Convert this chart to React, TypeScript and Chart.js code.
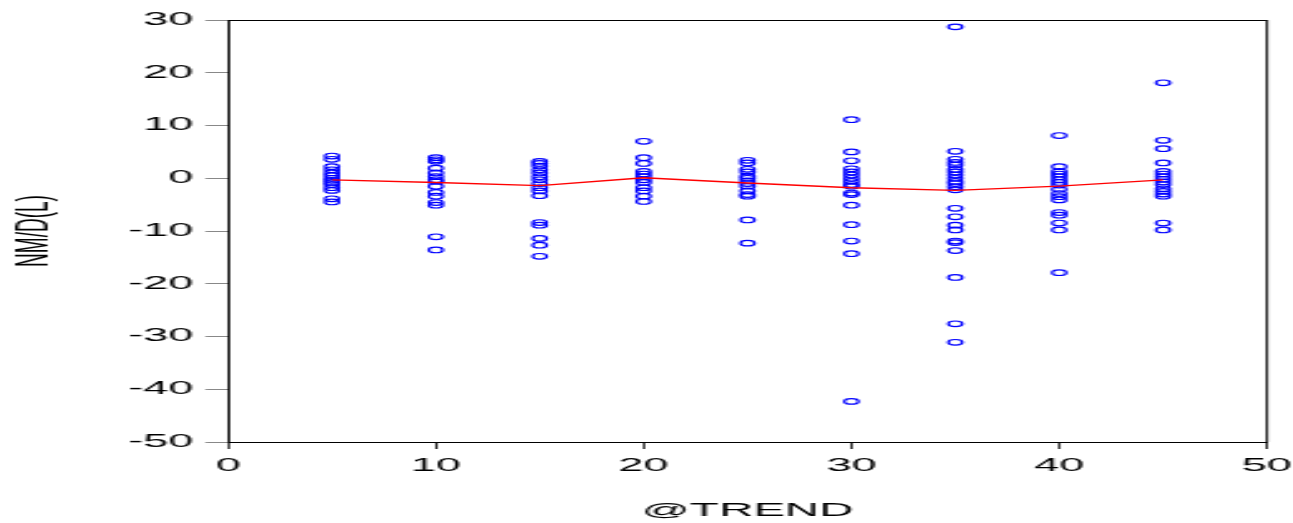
import React, { useEffect, useRef } from "react";
import { Chart, registerables } from "chart.js";

Chart.register(...registerables);

// ---- data ----
const groupX = [5, 10, 15, 20, 25, 30, 35, 40, 45];

const y5 = [4.2, 3.6, 2.2, 1.6, 1.0, 0.5, 0.0, -0.4, -0.8, -1.2, -1.8, -2.3, -3.9, -4.5];
const y10 = [3.9, 3.5, 3.2, 1.9, 1.0, 0.3, -0.3, -0.6, -1.5, -2.7, -3.4, -4.6, -5.1, -11.1, -13.6];
const y15 = [3.2, 2.8, 2.3, 1.6, 1.0, 0.3, -0.3, -1.0, -1.8, -2.4, -3.3, -8.4, -8.9, -11.4, -12.7, -14.8];
const y20 = [7.0, 3.9, 2.8, 1.3, 0.8, 0.3, -0.3, -0.8, -1.8, -2.4, -3.4, -4.4];
const y25 = [3.4, 2.9, 1.7, 1.2, 0.4, 0.0, -0.5, -1.0, -1.5, -2.4, -3.1, -3.4, -7.9, -12.3];
const y30 = [11.1, 5.0, 3.3, 1.8, 1.2, 0.6, 0.0, -0.6, -1.2, -1.5, -2.8, -3.1, -5.1, -8.8, -11.9, -14.3, -42.3];
const y35 = [28.7, 5.1, 3.6, 3.0, 2.5, 1.7, 1.2, 0.6, 0.0, -0.6, -1.0, -1.6, -2.2, -5.7, -7.3, -8.9, -9.8, -11.9, -12.2, -13.7, -18.8, -27.6, -31.1];
const y40 = [8.1, 2.2, 1.3, 0.8, 0.3, -0.3, -0.8, -1.3, -2.1, -2.9, -3.5, -4.1, -6.5, -7.0, -8.5, -9.8, -17.9];
const y45 = [18.1, 7.2, 5.6, 2.9, 1.3, 0.8, 0.3, -0.2, -0.7, -1.2, -2.0, -2.5, -3.0, -3.4, -8.5, -9.8];

const meanY = [-0.3, -0.8, -1.4, 0.1, -0.9, -1.8, -2.3, -1.5, -0.3];

const xAxisTitle = "@TREND";
const yAxisTitle = "NM/D(L)";

// ---- layout (reference image is horizontally stretched) ----
const OUT_W = 1293;
const OUT_H = 523;
const STRETCH = 2.5;
const CANVAS_W = Math.round(OUT_W / STRETCH);
const SX = OUT_W / CANVAS_W;
const FONT = "'Liberation Sans', Arial, sans-serif";

const boxPlugin = {
  id: "boxPlugin",
  afterDraw(chart: any) {
    const { ctx, chartArea } = chart;
    ctx.save();
    ctx.strokeStyle = "#000";
    ctx.lineWidth = 1;
    ctx.beginPath();
    ctx.moveTo(chartArea.left, chartArea.top + 0.5);
    ctx.lineTo(chartArea.right, chartArea.top + 0.5);
    ctx.stroke();
    ctx.lineWidth = 0.9;
    ctx.beginPath();
    ctx.moveTo(chartArea.right, chartArea.top);
    ctx.lineTo(chartArea.right, chartArea.bottom);
    ctx.stroke();
    ctx.restore();
  },
};

export default function App() {
  const ref = useRef<HTMLCanvasElement>(null);

  useEffect(() => {
    if (!ref.current) return;
    const groups = [y5, y10, y15, y20, y25, y30, y35, y40, y45];
    const scatterPts: { x: number; y: number }[] = [];
    groups.forEach((arr, i) => arr.forEach((v) => scatterPts.push({ x: groupX[i], y: v })));
    const meanPts = groupX.map((x, i) => ({ x, y: meanY[i] }));

    const chart = new Chart(ref.current, {
      type: "scatter",
      data: {
        datasets: [
          {
            type: "line",
            data: meanPts,
            borderColor: "#ff0000",
            borderWidth: 1.4,
            pointRadius: 0,
            fill: false,
            tension: 0,
          } as any,
          {
            data: scatterPts,
            pointStyle: "circle",
            pointRadius: 2.8,
            pointBorderWidth: 1.15,
            borderColor: "#0000ff",
            backgroundColor: "rgba(0,0,0,0)",
            pointBackgroundColor: "rgba(0,0,0,0)",
            pointBorderColor: "#0000ff",
          } as any,
        ],
      },
      options: {
        responsive: false,
        animation: false,
        devicePixelRatio: 1,
        layout: { padding: { left: 0, right: CANVAS_W - 1267 / SX, top: 20, bottom: 0 } },
        plugins: { legend: { display: false }, tooltip: { enabled: false } },
        scales: {
          x: {
            type: "linear",
            min: 0,
            max: 50,
            ticks: { stepSize: 10, color: "#000", padding: 6, font: { family: FONT, size: 18 }, maxRotation: 0 },
            grid: { drawOnChartArea: false, drawTicks: true, tickLength: 7, tickColor: "#333" },
            border: { display: true, color: "#000", width: 1 },
            title: { display: true, text: xAxisTitle, color: "#000", font: { family: FONT, size: 19, lineHeight: 1.0 }, padding: { top: 0, bottom: 3 } },
            afterFit: (s: any) => {
              s.height = OUT_H - 442;
              s.paddingLeft = 0;
              s.paddingRight = 0;
            },
          },
          y: {
            type: "linear",
            min: -50,
            max: 30,
            ticks: { stepSize: 10, color: "#000", padding: 5, font: { family: FONT, size: 18 } },
            grid: { drawOnChartArea: false, drawTicks: true, tickLength: 9, tickColor: "#888" },
            border: { display: true, color: "#000", width: 1 },
            title: { display: true, text: yAxisTitle, color: "#000", font: { family: FONT, size: 19 }, padding: { top: 2, bottom: 0 } },
            afterFit: (s: any) => {
              s.width = 228 / SX;
              s.paddingTop = 0;
              s.paddingBottom = 0;
            },
          },
        },
      } as any,
      plugins: [boxPlugin],
    });
    return () => chart.destroy();
  }, []);

  return (
    <div style={{ position: "fixed", left: 0, top: 0, width: OUT_W, height: OUT_H, background: "#fff" }}>
      <canvas
        ref={ref}
        width={CANVAS_W}
        height={OUT_H}
        style={{ display: "block", width: OUT_W + "px", height: OUT_H + "px" }}
      />
    </div>
  );
}
